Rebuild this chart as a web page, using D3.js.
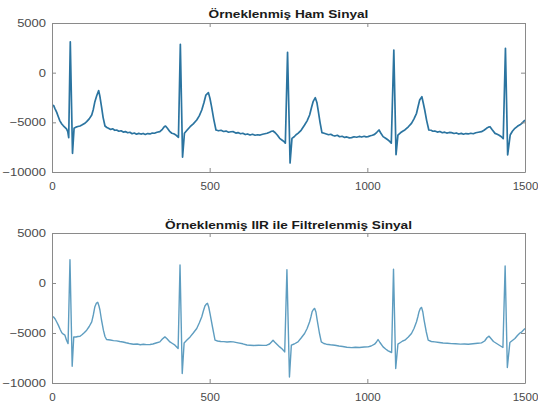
<!DOCTYPE html>
<html>
<head>
<meta charset="utf-8">
<script src="https://cdn.jsdelivr.net/npm/d3@7"></script>
<style>
body { margin: 0; background: #fff; }
text { font-family: "Liberation Sans", Arial, Helvetica, sans-serif; }
</style>
</head>
<body>
<div id="chart"></div>
<script>
// values
const xTicks = [0, 500, 1000, 1500];
const yTicks = [5000, 0, -5000, -10000];
const titles = ["Örneklenmiş Ham Sinyal", "Örneklenmiş IIR ile Filtrelenmiş Sinyal"];

const rawSamples = [0, 5, 9, 15, 20, 25, 31, 36, 41, 46, 50, 53, 58, 65, 70, 76, 82, 89, 96, 103, 110, 118, 126, 131, 136, 142, 148, 152, 157, 162, 168, 174, 179, 186, 192, 199, 205, 212, 219, 226, 233, 240, 247, 254, 261, 268, 275, 282, 289, 296, 303, 311, 318, 325, 333, 342, 350, 356, 360, 366, 374, 380, 386, 393, 401, 407, 414, 420, 428, 438, 448, 459, 467, 475, 482, 488, 496, 501, 506, 513, 520, 528, 536, 544, 552, 560, 567, 575, 583, 590, 598, 605, 613, 620, 628, 636, 644, 652, 660, 668, 675, 682, 690, 696, 701, 708, 715, 722, 730, 736, 740, 747, 755, 761, 768, 774, 780, 790, 801, 809, 817, 823, 828, 835, 840, 844, 850, 856, 863, 870, 877, 884, 891, 897, 905, 912, 920, 928, 935, 943, 950, 958, 966, 974, 982, 990, 996, 1002, 1010, 1016, 1023, 1030, 1037, 1043, 1050, 1058, 1066, 1070, 1076, 1084, 1091, 1097, 1105, 1112, 1119, 1130, 1140, 1148, 1156, 1161, 1166, 1173, 1177, 1182, 1188, 1195, 1202, 1208, 1214, 1222, 1230, 1238, 1245, 1252, 1260, 1267, 1275, 1282, 1290, 1298, 1305, 1312, 1320, 1328, 1336, 1344, 1352, 1362, 1370, 1378, 1384, 1389, 1396, 1405, 1412, 1418, 1425, 1431, 1438, 1445, 1453, 1460, 1468, 1476, 1484, 1490, 1496, 1500];
const rawValues = [-3250, -3300, -3590, -4000, -4430, -4850, -5170, -5350, -5500, -5650, -5940, -6550, 3100, -8120, -5600, -5480, -5420, -5370, -5250, -5120, -4930, -4650, -4260, -3700, -2920, -2300, -1810, -2400, -3420, -4500, -5370, -5520, -5600, -5720, -5650, -5800, -5770, -5900, -5850, -5980, -5930, -6050, -6000, -6150, -6080, -6200, -6110, -6180, -6120, -6220, -6130, -6170, -6080, -6100, -6000, -5940, -5700, -5450, -5370, -5600, -5940, -6100, -6150, -6280, -6500, 2850, -8500, -6100, -5800, -5440, -5150, -4770, -4350, -3760, -3000, -2250, -2010, -2600, -3420, -4700, -5770, -5850, -5800, -5920, -5880, -6000, -5950, -5940, -6080, -6030, -6150, -6100, -6230, -6170, -6280, -6200, -6300, -6250, -6280, -6200, -6150, -6100, -5990, -5900, -5870, -6050, -6300, -6610, -6800, -6950, -7100, 2050, -9100, -6610, -6450, -6250, -6110, -5800, -5270, -4850, -4260, -3500, -2920, -2520, -3000, -3760, -5000, -6040, -6100, -6170, -6250, -6200, -6330, -6380, -6300, -6450, -6400, -6520, -6470, -6560, -6540, -6450, -6500, -6420, -6480, -6400, -6460, -6440, -6350, -6300, -6210, -6000, -5770, -6100, -6440, -6600, -6780, -6900, -7100, 2280, -8250, -6280, -6050, -5900, -5770, -5450, -5100, -4650, -4090, -3400, -2750, -2420, -3000, -3760, -4800, -5770, -5800, -5900, -5870, -5980, -5920, -6050, -5990, -6080, -6020, -6040, -6120, -6070, -6180, -6110, -6200, -6130, -6170, -6100, -6150, -6050, -6000, -5940, -5800, -5600, -5480, -5440, -5750, -6110, -6200, -6300, -6450, -6650, 2450, -8290, -6280, -5900, -5600, -5400, -5250, -5100, -4900, -4770];

const filtSamples = [0, 5, 10, 15, 20, 26, 31, 36, 41, 46, 51, 57, 64, 69, 76, 82, 89, 96, 103, 110, 118, 126, 131, 136, 141, 145, 149, 152, 157, 163, 168, 173, 185, 195, 205, 215, 225, 235, 245, 258, 270, 280, 290, 300, 311, 320, 330, 342, 350, 358, 364, 374, 382, 390, 400, 406, 413, 419, 428, 438, 448, 459, 467, 475, 480, 485, 490, 493, 497, 501, 509, 517, 525, 535, 545, 555, 565, 575, 590, 605, 618, 628, 640, 655, 670, 681, 690, 696, 701, 706, 714, 722, 730, 738, 745, 753, 759, 768, 780, 790, 801, 809, 817, 821, 825, 829, 833, 837, 841, 848, 854, 862, 870, 883, 897, 910, 922, 935, 950, 962, 975, 990, 1002, 1012, 1023, 1029, 1034, 1040, 1050, 1058, 1066, 1077, 1083, 1090, 1097, 1105, 1112, 1119, 1130, 1140, 1148, 1156, 1160, 1164, 1168, 1172, 1176, 1180, 1187, 1193, 1203, 1214, 1228, 1240, 1254, 1267, 1280, 1295, 1308, 1320, 1335, 1350, 1362, 1372, 1380, 1386, 1392, 1400, 1410, 1420, 1430, 1437, 1444, 1452, 1460, 1468, 1476, 1484, 1490, 1500];
const filtValues = [-3375, -3400, -3600, -3900, -4210, -4650, -4980, -5120, -5220, -5720, -6060, 2320, -8320, -5390, -5400, -5350, -5320, -5150, -4950, -4720, -4350, -3880, -3200, -2370, -2000, -1935, -2300, -2700, -3700, -4720, -5350, -5650, -5700, -5760, -5790, -5850, -5900, -5980, -6050, -6120, -6100, -6170, -6130, -6160, -6150, -6100, -6000, -5890, -5600, -5390, -5550, -5890, -6050, -6220, -6560, 1800, -9050, -5990, -5700, -5390, -5000, -4550, -4000, -3375, -2800, -2300, -2080, -2035, -2400, -3040, -4400, -5720, -5800, -5850, -5860, -5900, -5880, -5890, -5990, -6080, -6200, -6220, -6250, -6220, -6240, -6220, -6100, -5900, -5720, -5900, -6150, -6390, -6600, -6890, 1320, -9400, -6220, -6100, -5890, -5500, -5050, -4550, -3880, -3400, -2870, -2650, -2540, -2900, -3710, -5000, -5890, -6050, -6120, -6180, -6220, -6300, -6350, -6420, -6460, -6430, -6450, -6400, -6390, -6300, -6120, -5900, -5650, -5950, -6390, -6600, -6790, -6950, 1390, -8550, -6120, -5950, -5800, -5720, -5400, -5050, -4550, -3880, -3400, -2870, -2550, -2440, -2900, -3710, -4900, -5720, -5850, -5890, -5950, -6000, -6030, -6060, -6080, -6110, -6100, -6120, -6080, -6030, -5990, -5800, -5450, -5320, -5550, -5850, -6050, -6250, -6450, 1700, -8450, -5950, -5750, -5550, -5250, -5000, -4880, -4550];

const width = 538, height = 410;
const left = 52, right = 525;

const panels = [
  {title: titles[0], xs: rawSamples, ys: rawValues, top: 23, bottom: 172, titleY: 18, color: "#2b74a0", lw: 1.7},
  {title: titles[1], xs: filtSamples, ys: filtValues, top: 233, bottom: 383, titleY: 229, color: "#5e9dc0", lw: 1.4}
];

const svg = d3.select("#chart")
  .append("svg")
  .attr("width", width)
  .attr("height", height);

panels.forEach((p, i) => {
  const x = d3.scaleLinear().domain([0, 1500]).range([left, right]);
  const y = d3.scaleLinear().domain([-10000, 5000]).range([p.bottom, p.top]);

  const g = svg.append("g");

  g.append("clipPath").attr("id", "clip" + i)
    .append("rect")
    .attr("x", left).attr("y", p.top)
    .attr("width", right - left).attr("height", p.bottom - p.top);

  const pts = p.xs.map((s, k) => [s, p.ys[k]]);
  g.append("path")
    .datum(pts)
    .attr("clip-path", `url(#clip${i})`)
    .attr("fill", "none")
    .attr("stroke", p.color)
    .attr("stroke-width", p.lw)
    .attr("stroke-linejoin", "round")
    .attr("d", d3.line().x(d => x(d[0])).y(d => y(d[1])));

  // axes, ticks pointing inwards like matlab
  const styleAxis = sel => {
    sel.selectAll(".domain").attr("stroke", "#8a8a8a");
    sel.selectAll(".tick line").attr("stroke", "#8a8a8a");
    sel.selectAll(".tick text")
      .attr("fill", "#4a4a4a")
      .style("font-size", "11px");
  };

  const xb = g.append("g")
    .attr("transform", `translate(0,${p.bottom})`)
    .call(d3.axisBottom(x).tickValues(xTicks).tickSize(-4).tickSizeOuter(0).tickPadding(10).tickFormat(d3.format("d")))
    .call(styleAxis);
  xb.selectAll(".tick text").each(function () {
    const t = d3.select(this);
    t.attr("transform", `translate(0,${+t.attr("y")}) scale(1.05,1)`).attr("y", 0).attr("dy", "0.71em");
  });

  const yl = g.append("g")
    .attr("transform", `translate(${left},0)`)
    .call(d3.axisLeft(y).tickValues(yTicks).tickSize(-4).tickSizeOuter(0).tickPadding(6).tickFormat(d3.format("d")))
    .call(styleAxis);
  yl.selectAll(".tick text").each(function () {
    const t = d3.select(this);
    t.attr("transform", `translate(${+t.attr("x")},0) scale(1.18,1)`).attr("x", 0);
  });

  g.append("g")
    .attr("transform", `translate(0,${p.top})`)
    .call(d3.axisTop(x).tickValues(xTicks).tickSize(-4).tickSizeOuter(0).tickFormat(""))
    .call(styleAxis);

  g.append("g")
    .attr("transform", `translate(${right},0)`)
    .call(d3.axisRight(y).tickValues(yTicks).tickSize(-4).tickSizeOuter(0).tickFormat(""))
    .call(styleAxis);

  g.append("text")
    .attr("transform", `translate(${(left + right) / 2},${p.titleY}) scale(1.3,1)`)
    .attr("text-anchor", "middle")
    .attr("font-weight", "bold")
    .attr("font-size", "10.5px")
    .attr("fill", "#1a1a1a")
    .text(p.title);
});
</script>
</body>
</html>
